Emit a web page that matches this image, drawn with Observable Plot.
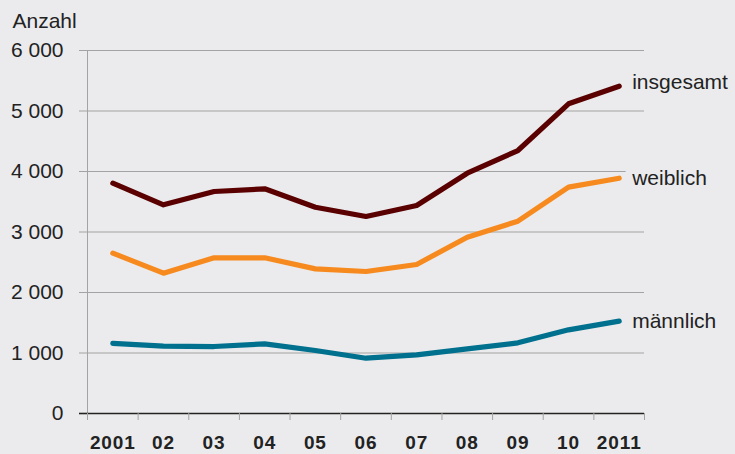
<!DOCTYPE html>
<html>
<head>
<meta charset="utf-8">
<script src="https://cdn.jsdelivr.net/npm/d3@7"></script>
<script src="https://cdn.jsdelivr.net/npm/@observablehq/plot@0.6"></script>
<style>
  html, body { margin: 0; padding: 0; background: #ebebed; }
  #chart svg { display: block; }
</style>
</head>
<body>
<div id="chart"></div>
<script>
const years = [2001, 2002, 2003, 2004, 2005, 2006, 2007, 2008, 2009, 2010, 2011];
const yearLabels = ["2001", "02", "03", "04", "05", "06", "07", "08", "09", "10", "2011"];
const yearBounds = [2000.5, 2001.5, 2002.5, 2003.5, 2004.5, 2005.5, 2006.5, 2007.5, 2008.5, 2009.5, 2010.5, 2011.5];
const insgesamt = [3807, 3450, 3669, 3714, 3410, 3256, 3438, 3972, 4347, 5119, 5410];
const weiblich  = [2650, 2319, 2573, 2573, 2391, 2347, 2463, 2914, 3179, 3741, 3889];
const maennlich = [1160, 1113, 1107, 1150, 1041, 914, 970, 1069, 1168, 1383, 1526];
const yTicks = [0, 1000, 2000, 3000, 4000, 5000, 6000];
const seriesNames = ["insgesamt", "weiblich", "männlich"];
const seriesColors = ["#5a0000", "#f78a1e", "#00708f"];
const yTitle = "Anzahl";

const seriesValues = [insgesamt, weiblich, maennlich];
const rows = seriesNames.flatMap((s, k) => years.map((yr, i) => ({series: s, year: yr, value: seriesValues[k][i]})));
const lastRows = seriesNames.map((s, k) => ({series: s, year: years[years.length - 1], value: seriesValues[k][years.length - 1]}));

const bg = "#ebebed";
const fmt = d => d3.format(",")(d).replace(/,/g, " ");
const labelOpts = {x: "year", y: "value", text: "series", textAnchor: "start", lineAnchor: "middle", dx: 13, fontSize: 21, fill: "#222", stroke: bg, strokeWidth: 14};

const chart = Plot.plot({
  width: 735,
  height: 454,
  marginLeft: 87,
  marginRight: 91,
  marginTop: 50,
  marginBottom: 41,
  style: {background: bg, fontFamily: "'Liberation Sans', Arial, Helvetica, sans-serif", color: "#222"},
  x: {type: "linear", domain: [2000.5, 2011.5]},
  y: {domain: [0, 6000]},
  color: {domain: seriesNames, range: seriesColors},
  marks: [
    Plot.gridY(yTicks, {stroke: "#a3a3a3", strokeOpacity: 1, strokeWidth: 1}),
    Plot.axisY(yTicks, {tickSize: 8, tickPadding: 16, tickFormat: fmt, fontSize: 21, stroke: "#a3a3a3", fill: "#222", label: null}),
    Plot.axisY([0], {tickSize: 8, tickFormat: () => "", stroke: "#222", strokeWidth: 1.6, label: null}),
    Plot.ruleX([2000.5], {stroke: "#a3a3a3", strokeWidth: 1}),
    Plot.ruleY([0], {stroke: "#222", strokeWidth: 1.6}),
    Plot.axisX(yearBounds, {tickSize: 7, tickFormat: () => "", stroke: "#a3a3a3", label: null}),
    Plot.axisX(years, {tickSize: 0, tickPadding: 22, tickFormat: d => yearLabels[years.indexOf(d)], fontSize: 19, fontWeight: "bold", fill: "#222", label: null}),
    Plot.line(rows, {x: "year", y: "value", z: "series", stroke: "series", strokeWidth: 5.2, strokeLinecap: "round", strokeLinejoin: "round"}),
    Plot.text(lastRows.filter(d => d.series === "insgesamt"), {...labelOpts, dy: -4}),
    Plot.text(lastRows.filter(d => d.series !== "insgesamt"), {...labelOpts, dy: 0}),
    Plot.text([yTitle], {frameAnchor: "top-left", textAnchor: "start", lineAnchor: "bottom", dx: -75, dy: -23, fontSize: 21, fill: "#222"})
  ]
});
document.getElementById("chart").append(chart);
d3.select(chart).selectAll('g[aria-label="x-axis tick label"] text').style("letter-spacing", "0.9px");
</script>
</body>
</html>
